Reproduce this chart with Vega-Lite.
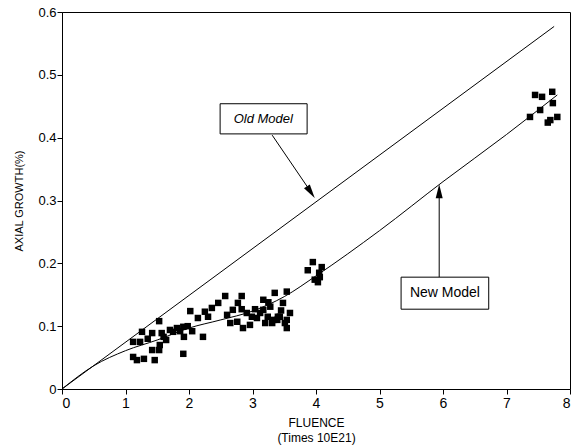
{
  "$schema": "https://vega.github.io/schema/vega-lite/v6.json",
  "width": 508,
  "height": 377,
  "autosize": {"type": "none"},
  "padding": {"left": 62, "top": 12, "right": 5, "bottom": 58},
  "background": "white",
  "config": {
    "font": "Liberation Sans",
    "view": {"stroke": "black", "strokeWidth": 1},
    "axis": {"grid": false, "domainColor": "black", "tickColor": "black", "labelColor": "black", "titleColor": "black", "labelFont": "Liberation Sans", "titleFont": "Liberation Sans", "titleFontWeight": "normal", "tickSize": 5}
  },
  "datasets": {
    "obs": [
      {"fluence": 1.12, "growth": 0.051}, {"fluence": 1.18, "growth": 0.046}, {"fluence": 1.29, "growth": 0.048}, {"fluence": 1.46, "growth": 0.046},
      {"fluence": 1.12, "growth": 0.075}, {"fluence": 1.23, "growth": 0.075}, {"fluence": 1.26, "growth": 0.091}, {"fluence": 1.42, "growth": 0.089},
      {"fluence": 1.53, "growth": 0.108}, {"fluence": 1.57, "growth": 0.089}, {"fluence": 1.70, "growth": 0.094}, {"fluence": 1.81, "growth": 0.097},
      {"fluence": 1.91, "growth": 0.099}, {"fluence": 2.05, "growth": 0.092}, {"fluence": 1.92, "growth": 0.083}, {"fluence": 1.64, "growth": 0.078},
      {"fluence": 1.54, "growth": 0.070}, {"fluence": 1.42, "growth": 0.062}, {"fluence": 1.53, "growth": 0.062}, {"fluence": 1.75, "growth": 0.091},
      {"fluence": 1.91, "growth": 0.056}, {"fluence": 1.35, "growth": 0.080}, {"fluence": 1.60, "growth": 0.083}, {"fluence": 1.86, "growth": 0.092},
      {"fluence": 1.98, "growth": 0.100},
      {"fluence": 2.02, "growth": 0.124}, {"fluence": 2.14, "growth": 0.113}, {"fluence": 2.22, "growth": 0.083}, {"fluence": 2.25, "growth": 0.123},
      {"fluence": 2.36, "growth": 0.129}, {"fluence": 2.46, "growth": 0.137}, {"fluence": 2.57, "growth": 0.148}, {"fluence": 2.83, "growth": 0.148},
      {"fluence": 2.65, "growth": 0.105}, {"fluence": 2.76, "growth": 0.107}, {"fluence": 2.85, "growth": 0.097}, {"fluence": 2.96, "growth": 0.102},
      {"fluence": 2.99, "growth": 0.115}, {"fluence": 2.91, "growth": 0.121}, {"fluence": 3.07, "growth": 0.113}, {"fluence": 3.12, "growth": 0.121},
      {"fluence": 3.17, "growth": 0.142}, {"fluence": 3.28, "growth": 0.131}, {"fluence": 3.33, "growth": 0.110}, {"fluence": 3.40, "growth": 0.115},
      {"fluence": 3.48, "growth": 0.137}, {"fluence": 3.54, "growth": 0.110}, {"fluence": 2.69, "growth": 0.126}, {"fluence": 2.83, "growth": 0.127},
      {"fluence": 2.77, "growth": 0.137}, {"fluence": 3.35, "growth": 0.153}, {"fluence": 3.54, "growth": 0.155}, {"fluence": 3.17, "growth": 0.126},
      {"fluence": 3.24, "growth": 0.115}, {"fluence": 3.43, "growth": 0.115}, {"fluence": 3.59, "growth": 0.121}, {"fluence": 3.31, "growth": 0.105},
      {"fluence": 3.51, "growth": 0.105}, {"fluence": 3.20, "growth": 0.105}, {"fluence": 3.39, "growth": 0.110}, {"fluence": 3.54, "growth": 0.097},
      {"fluence": 3.04, "growth": 0.127}, {"fluence": 3.25, "growth": 0.138}, {"fluence": 3.45, "growth": 0.125}, {"fluence": 2.30, "growth": 0.115},
      {"fluence": 2.60, "growth": 0.118},
      {"fluence": 3.95, "growth": 0.202}, {"fluence": 3.87, "growth": 0.189}, {"fluence": 4.09, "growth": 0.194}, {"fluence": 4.06, "growth": 0.178},
      {"fluence": 4.03, "growth": 0.170}, {"fluence": 3.98, "growth": 0.174}, {"fluence": 4.05, "growth": 0.185},
      {"fluence": 7.45, "growth": 0.468}, {"fluence": 7.56, "growth": 0.465}, {"fluence": 7.72, "growth": 0.473}, {"fluence": 7.73, "growth": 0.455},
      {"fluence": 7.53, "growth": 0.444}, {"fluence": 7.37, "growth": 0.433}, {"fluence": 7.69, "growth": 0.428}, {"fluence": 7.65, "growth": 0.424},
      {"fluence": 7.80, "growth": 0.433}
    ],
    "oldModel": [
      {"fluence": 0, "growth": 0}, {"fluence": 7.75, "growth": 0.577}
    ],
    "newModel": [
      {"fluence": 0, "growth": 0}, {"fluence": 0.5, "growth": 0.037}, {"fluence": 1.0, "growth": 0.061}, {"fluence": 1.5, "growth": 0.078},
      {"fluence": 2.0, "growth": 0.097}, {"fluence": 2.5, "growth": 0.110}, {"fluence": 3.0, "growth": 0.124}, {"fluence": 3.5, "growth": 0.147},
      {"fluence": 4.0, "growth": 0.180}, {"fluence": 5.0, "growth": 0.252}, {"fluence": 6.0, "growth": 0.330}, {"fluence": 7.0, "growth": 0.405},
      {"fluence": 7.8, "growth": 0.468}
    ],
    "boxes": [
      {"label": "Old Model", "x1": 2.49, "x2": 3.86, "y1": 0.406, "y2": 0.454, "xc": 3.17, "yc": 0.430},
      {"label": "New Model", "x1": 5.34, "x2": 6.72, "y1": 0.127, "y2": 0.178, "xc": 6.03, "yc": 0.152}
    ],
    "arrowLines": [
      {"label": "Old Model", "x1": 3.31, "y1": 0.404, "x2": 3.93, "y2": 0.312},
      {"label": "New Model", "x1": 5.94, "y1": 0.178, "x2": 5.94, "y2": 0.315}
    ],
    "oldTip": [{"fluence": 3.98, "growth": 0.304}],
    "newTip": [{"fluence": 5.94, "growth": 0.326}]
  },
  "layer": [
    {
      "data": {"name": "oldModel"},
      "mark": {"type": "line", "color": "black", "strokeWidth": 1},
      "encoding": {
        "x": {"field": "fluence", "type": "quantitative", "scale": {"domain": [0, 8], "nice": false},
          "axis": {"values": [0, 1, 2, 3, 4, 5, 6, 7, 8], "format": "d", "labelFontSize": 14, "labelPadding": 2, "title": ["FLUENCE", "(Times 10E21)"], "titleFontSize": 12, "titlePadding": 7, "titleLineHeight": 15}},
        "y": {"field": "growth", "type": "quantitative", "scale": {"domain": [0, 0.6], "nice": false},
          "axis": {"values": [0, 0.1, 0.2, 0.3, 0.4, 0.5, 0.6], "format": ".1~f", "labelFontSize": 13, "labelPadding": 1, "title": "AXIAL GROWTH(%)", "titleFontSize": 11, "titlePadding": 13}}
      }
    },
    {
      "data": {"name": "newModel"},
      "mark": {"type": "line", "color": "black", "strokeWidth": 1, "interpolate": "monotone"},
      "encoding": {
        "x": {"field": "fluence", "type": "quantitative"},
        "y": {"field": "growth", "type": "quantitative"}
      }
    },
    {
      "data": {"name": "obs"},
      "mark": {"type": "square", "color": "black", "filled": true, "opacity": 1, "size": 42},
      "encoding": {
        "x": {"field": "fluence", "type": "quantitative"},
        "y": {"field": "growth", "type": "quantitative"}
      }
    },
    {
      "data": {"name": "arrowLines"},
      "mark": {"type": "rule", "color": "black", "strokeWidth": 1},
      "encoding": {
        "x": {"field": "x1", "type": "quantitative"},
        "y": {"field": "y1", "type": "quantitative"},
        "x2": {"field": "x2"},
        "y2": {"field": "y2"}
      }
    },
    {
      "data": {"name": "oldTip"},
      "mark": {"type": "point", "shape": "M0,0L0.5,2L-0.5,2Z", "filled": true, "color": "black", "opacity": 1, "size": 196, "angle": 146},
      "encoding": {
        "x": {"field": "fluence", "type": "quantitative"},
        "y": {"field": "growth", "type": "quantitative"}
      }
    },
    {
      "data": {"name": "newTip"},
      "mark": {"type": "point", "shape": "M0,0L0.5,2L-0.5,2Z", "filled": true, "color": "black", "opacity": 1, "size": 196, "angle": 0},
      "encoding": {
        "x": {"field": "fluence", "type": "quantitative"},
        "y": {"field": "growth", "type": "quantitative"}
      }
    },
    {
      "data": {"name": "boxes"},
      "mark": {"type": "rect", "fill": "white", "stroke": "black", "strokeWidth": 1},
      "encoding": {
        "x": {"field": "x1", "type": "quantitative"},
        "x2": {"field": "x2"},
        "y": {"field": "y1", "type": "quantitative"},
        "y2": {"field": "y2"}
      }
    },
    {
      "data": {"name": "boxes"},
      "transform": [{"filter": "datum.label === 'Old Model'"}],
      "mark": {"type": "text", "color": "black", "fontSize": 13, "fontStyle": "italic", "align": "center", "baseline": "middle"},
      "encoding": {
        "x": {"field": "xc", "type": "quantitative"},
        "y": {"field": "yc", "type": "quantitative"},
        "text": {"field": "label"}
      }
    },
    {
      "data": {"name": "boxes"},
      "transform": [{"filter": "datum.label === 'New Model'"}],
      "mark": {"type": "text", "color": "black", "fontSize": 14, "align": "center", "baseline": "middle"},
      "encoding": {
        "x": {"field": "xc", "type": "quantitative"},
        "y": {"field": "yc", "type": "quantitative"},
        "text": {"field": "label"}
      }
    }
  ]
}
